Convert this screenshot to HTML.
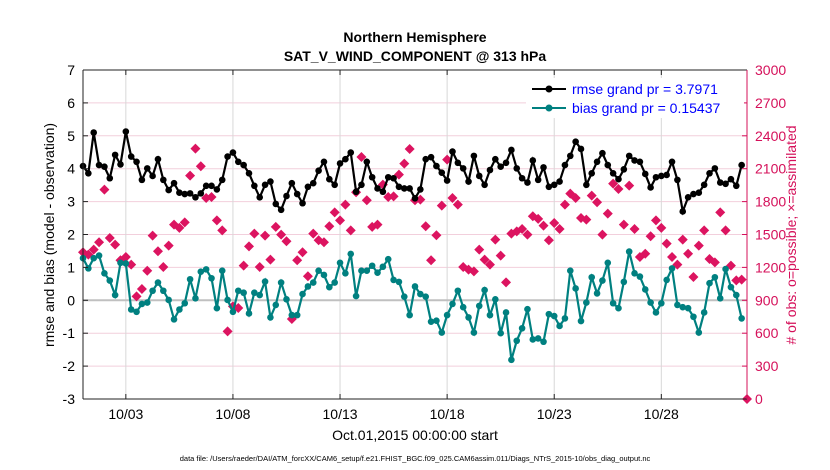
<!DOCTYPE html>
<html><head><meta charset="utf-8"><style>
html,body{margin:0;padding:0;background:#fff;}
svg{display:block;font-family:"Liberation Sans",sans-serif;}
</style></head><body>
<svg id="chart" width="830" height="470" viewBox="0 0 830 470">
<text x="415" y="42" text-anchor="middle" font-size="14" font-weight="bold">Northern Hemisphere</text>
<text x="415" y="61" text-anchor="middle" font-size="14" font-weight="bold">SAT_V_WIND_COMPONENT @ 313 hPa</text>
<g id="grid"></g>
<g id="marks"></g>
<g id="axes"></g>
<text transform="translate(54,235) rotate(-90)" text-anchor="middle" font-size="14">rmse and bias (model - observation)</text>
<text transform="translate(796,235) rotate(-90)" text-anchor="middle" font-size="14" fill="#d5105a"># of obs: o=possible; ×=assimilated</text>
<text x="415" y="440" text-anchor="middle" font-size="14">Oct.01,2015 00:00:00 start</text>
<text x="415" y="461" text-anchor="middle" font-size="7.5">data file: /Users/raeder/DAI/ATM_forcXX/CAM6_setup/f.e21.FHIST_BGC.f09_025.CAM6assim.011/Diags_NTrS_2015-10/obs_diag_output.nc</text>
<g>
<rect x="526" y="78" width="218" height="40" fill="#fff"/>
<g>
<line x1="532" y1="89" x2="566" y2="89" stroke="#000" stroke-width="2"/><circle cx="549" cy="89" r="3.5" fill="#000"/>
<text x="572" y="94" font-size="14" fill="#0000ff">rmse grand pr = 3.7971</text></g>
<g>
<line x1="532" y1="108" x2="566" y2="108" stroke="#008080" stroke-width="2"/><circle cx="549" cy="108" r="3.5" fill="#008080"/>
<text x="572" y="113" font-size="14" fill="#0000ff">bias grand pr = 0.15437</text></g>
</g>
</svg>
<script>
const rmse=[4.08,3.86,5.10,4.11,4.06,3.71,4.42,4.13,5.13,4.37,4.21,3.66,4.01,3.78,4.29,3.66,3.35,3.56,3.27,3.23,3.25,3.13,3.25,3.48,3.48,3.37,3.66,4.37,4.49,4.21,4.11,3.86,
3.48,3.13,3.51,3.61,2.93,2.75,3.17,3.56,3.23,2.95,3.45,3.56,3.94,4.21,3.68,3.51,4.16,4.29,4.49,3.30,3.51,4.21,3.74,3.40,3.30,3.74,3.71,3.45,3.40,3.40,3.10,
3.37,4.29,4.35,4.08,3.88,3.64,4.52,4.18,4.01,3.61,4.39,3.78,3.51,3.96,4.29,4.06,4.18,4.57,4.01,3.71,3.58,4.25,3.66,4.04,3.45,3.51,3.61,4.11,4.39,4.82,4.60,
3.51,3.86,4.21,4.47,4.11,3.86,3.68,3.98,4.39,4.25,4.21,3.84,3.43,3.74,3.78,3.81,4.21,3.66,2.70,3.13,3.23,3.27,3.51,3.86,4.01,3.58,3.54,3.68,3.48,4.11];
const bias=[1.28,0.97,1.28,1.36,0.82,0.60,0.16,1.14,1.12,-0.28,-0.35,-0.11,-0.07,0.29,0.54,0.29,0.01,-0.58,-0.28,-0.09,0.64,0.06,0.87,0.94,0.67,-0.24,0.90,0.01,-0.35,0.29,0.23,-0.40,
0.23,0.16,0.57,-0.52,-0.14,0.54,0.03,-0.45,-0.45,0.19,0.42,0.54,0.90,0.77,0.40,0.54,1.14,0.82,1.41,0.13,0.90,0.90,1.05,0.84,1.02,1.25,0.62,0.56,0.11,-0.45,0.42,
0.19,0.11,-0.65,-0.62,-0.98,-0.45,-0.11,0.29,-0.21,-0.52,-0.98,-0.17,0.31,-0.45,0.03,-1.00,-0.37,-1.81,-1.23,-0.85,-0.27,-1.19,-1.16,-1.26,-0.42,-0.48,-0.78,-0.55,0.90,0.36,-0.63,
-0.07,0.70,0.21,0.60,1.14,-0.09,-0.24,0.56,1.48,0.82,0.72,0.33,-0.07,-0.37,-0.09,0.62,0.97,-0.14,-0.21,-0.24,-0.50,-0.98,-0.37,0.52,0.70,0.06,0.95,0.40,0.16,-0.55];
const obs=[1338,1316,1362,1429,1909,1468,1408,1265,1295,1225,936,1003,1170,1490,1347,1204,1398,1590,1560,1611,2037,2283,2122,1833,1842,1629,1538,617,845,830,1216,1392,
1508,1204,1490,1271,1569,1499,1438,730,1265,1338,1119,1508,1447,1429,1575,1702,1629,1772,1538,1885,2207,1812,1569,1590,1955,1842,1848,2046,2146,2280,1812,
1818,1575,1265,1493,1763,2183,1833,1772,1204,1180,1164,1362,1271,1225,1453,1307,1064,1508,1529,1550,1499,1666,1642,1581,1447,1605,1550,1772,1873,1833,1651,
1636,1854,1794,1499,1690,1964,1915,1590,1946,1550,1295,1325,1484,1629,1560,1417,1295,1225,1453,1325,1113,1398,1538,1277,1246,1702,1538,1216,1082,1088,0];
const yTicks=[7,6,5,4,3,2,1,0,-1,-2,-3];
const y2Ticks=[0,300,600,900,1200,1500,1800,2100,2400,2700,3000];
const xTickDays=[2,7,12,17,22,27];
const xTickLabels=["10/03","10/08","10/13","10/18","10/23","10/28"];

const L=83,R=747,T=70,B=399,NS="http://www.w3.org/2000/svg";
const xs=d=>L+(d/31)*(R-L);
const ys=v=>B-(v+3)/10*(B-T);
const ys2=v=>B-v/3000*(B-T);
function mk(tag,attrs,parent){const e=document.createElementNS(NS,tag);for(const k in attrs)e.setAttribute(k,attrs[k]);parent.appendChild(e);return e;}
const grid=document.getElementById('grid'),marks=document.getElementById('marks'),axes=document.getElementById('axes');
yTicks.forEach(v=>{
 if(v!==7&&v!==-3&&v!==0){const g=mk('line',{x1:L,x2:R,y1:ys(v),y2:ys(v),stroke:'#f2cfdc','stroke-width':1},grid);
 
 }
 const t=mk('text',{x:L-8,y:ys(v)+5,'text-anchor':'end','font-size':14},axes);t.textContent=v;
 
 
 mk('line',{x1:L,x2:L+5,y1:ys(v),y2:ys(v),stroke:'#222'},axes);
});
y2Ticks.forEach(v=>{
 const t=mk('text',{x:R+8,y:ys2(v)+5,'font-size':14,fill:'#d5105a'},axes);t.textContent=v;
 
 
 mk('line',{x1:R-5,x2:R,y1:ys2(v),y2:ys2(v),stroke:'#d5105a'},axes);
});
xTickDays.forEach((d,i)=>{
 const g=mk('line',{x1:xs(d),x2:xs(d),y1:T,y2:B,stroke:'#d8d8d8','stroke-width':1},grid);
 
 
 mk('line',{x1:xs(d),x2:xs(d),y1:B,y2:B-5,stroke:'#222'},axes);
 mk('line',{x1:xs(d),x2:xs(d),y1:T,y2:T+5,stroke:'#222'},axes);
 const t=mk('text',{x:xs(d),y:B+20,'text-anchor':'middle','font-size':14},axes);t.textContent=xTickLabels[i];
 
 
});
const z=mk('line',{x1:L,x2:R,y1:ys(0),y2:ys(0),stroke:'#c0c0c0','stroke-width':2},grid);


mk('path',{d:`M${L},${T}H${R}M${L},${B}H${R}M${L},${T}V${B}`,stroke:'#222',fill:'none','stroke-width':1},axes);
mk('line',{x1:R,x2:R,y1:T,y2:B,stroke:'#d5105a','stroke-width':1},axes);
// obs diamonds
obs.forEach((v,i)=>{
 const x=xs(i/4),y=ys2(v);
 const p=mk('path',{d:`M${x},${y-5}L${x+5},${y}L${x},${y+5}L${x-5},${y}Z`,fill:'#dc1460'},marks);
 
 
});
function series(arr,color,name){
 const pl=mk('polyline',{points:arr.map((v,i)=>xs(i/4)+','+ys(v)).join(' '),fill:'none',stroke:color,'stroke-width':2.2},marks);
 
 
 arr.forEach((v,i)=>{const c=mk('circle',{cx:xs(i/4),cy:ys(v),r:3.3,fill:color},marks);
 
 });
}
series(bias,'#008080','bias');
series(rmse,'#000000','rmse');
</script>
</body></html>
